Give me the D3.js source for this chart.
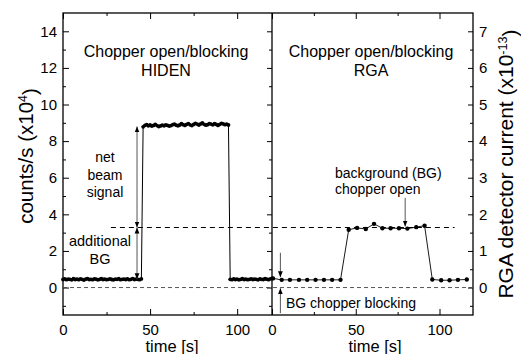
<!DOCTYPE html>
<html>
<head>
<meta charset="utf-8">
<script src="https://cdn.jsdelivr.net/npm/d3@7"></script>
<style>
  body { margin: 0; background: #fff; }
  svg { font-family: "Liberation Sans", Arial, sans-serif; }
</style>
</head>
<body>
<svg id="chart" width="521" height="354"></svg>
<script>
// HIDEN count rate (x10^4 counts/s), one sample per second starting at t = 0 s
var hidenStart = 0, hidenStep = 1
var hidenCounts = [
  0.44, 0.47, 0.43, 0.46, 0.45, 0.42, 0.48, 0.44, 0.46, 0.43,
  0.47, 0.45, 0.41, 0.46, 0.49, 0.44, 0.45, 0.43, 0.47, 0.46,
  0.42, 0.45, 0.48, 0.44, 0.46, 0.43, 0.45, 0.47, 0.44, 0.42,
  0.46, 0.45, 0.48, 0.43, 0.45, 0.46, 0.44, 0.47, 0.43, 0.45,
  0.49, 0.44, 0.46, 0.45, 0.43, 0.47,
  8.78, 8.86, 8.90, 8.84, 8.88, 8.82, 8.86, 8.91, 8.85, 8.80,
  8.83, 8.87, 8.84, 8.89, 8.86, 8.82, 8.85, 8.90, 8.93, 8.87,
  8.84, 8.88, 8.95, 8.90, 8.86, 8.92, 8.96, 8.89, 8.85, 8.91,
  8.97, 8.93, 8.88, 8.94, 8.99, 8.92, 8.87, 8.90, 8.96, 8.93,
  8.89, 8.95, 8.91, 8.86, 8.92, 8.97, 8.94, 8.90, 8.93, 8.88,
  0.45, 0.43, 0.47, 0.44, 0.46, 0.42, 0.45, 0.48, 0.44, 0.46,
  0.43, 0.45, 0.47, 0.44, 0.46, 0.45, 0.42, 0.47, 0.45, 0.44,
  0.48, 0.46, 0.43, 0.47, 0.50
]

// RGA detector current (x10^-13 A)
var rgaTime = [0.6, 5.8, 10.7, 16.1, 21, 26, 31, 35.9, 40.9,
  45.8, 50.8, 56, 60.9, 65.9, 70.8, 75.8, 80.8, 86.1, 91.1,
  95.7, 101, 106, 111, 116.3]
var rgaCurrent = [0.25, 0.21, 0.21, 0.21, 0.21, 0.21, 0.21, 0.21, 0.21,
  1.58, 1.63, 1.60, 1.74, 1.62, 1.62, 1.62, 1.61, 1.65, 1.69,
  0.22, 0.20, 0.20, 0.21, 0.22]

var bgOpenLevel = 1.64   // RGA units, dashed reference line
var timeTicks = [0, 50, 100]
var timeMinor = [25, 75]
var countTicks = [0, 2, 4, 6, 8, 10, 12, 14]
var countMinor = [-1, 1, 3, 5, 7, 9, 11, 13]
var rgaTicks = [0, 1, 2, 3, 4, 5, 6, 7]
var rgaMinor = [-0.5, 0.5, 1.5, 2.5, 3.5, 4.5, 5.5, 6.5]

var svg = d3.select("#chart")

var plotTop = 13, plotBottom = 315
var xL = d3.scaleLinear().domain([0, 120]).range([63, 272])
var xR = d3.scaleLinear().domain([0, 120]).range([272, 473])
var yL = d3.scaleLinear().domain([-1.5, 15]).range([plotBottom, plotTop])
var yR = d3.scaleLinear().domain([-0.75, 7.5]).range([plotBottom, plotTop])

var hiden = hidenCounts.map(function (v, i) { return { t: hidenStart + i * hidenStep, v: v } })
var rga = rgaTime.map(function (t, i) { return { t: t, v: rgaCurrent[i] } })

// arrow head marker
var defs = svg.append("defs")
defs.append("marker").attr("id", "head")
  .attr("viewBox", "0 0 10 10").attr("refX", 10).attr("refY", 5)
  .attr("markerWidth", 6).attr("markerHeight", 6)
  .attr("markerUnits", "userSpaceOnUse")
  .attr("orient", "auto-start-reverse")
  .append("path").attr("d", "M0,1 L10,5 L0,9 Z").attr("fill", "#000")

function styleAxis(g) {
  g.select(".domain").remove()
  g.selectAll("line").attr("stroke", "#000").attr("stroke-width", 1)
  g.selectAll("text").attr("fill", "#000").style("font-size", "15px")
    .style("font-family", "'Liberation Sans', Arial, sans-serif")
}

function addAxis(axis, tx, ty) {
  svg.append("g").attr("transform", "translate(" + tx + "," + ty + ")").call(axis).call(styleAxis)
}

// bottom / top time axes, ticks pointing in
;[xL, xR].forEach(function (x) {
  addAxis(d3.axisBottom(x).tickValues(timeTicks).tickSize(-6).tickPadding(9), 0, plotBottom)
  addAxis(d3.axisBottom(x).tickValues(timeMinor).tickSize(-3).tickFormat(""), 0, plotBottom)
  addAxis(d3.axisTop(x).tickValues(timeTicks).tickSize(-6).tickFormat(""), 0, plotTop)
  addAxis(d3.axisTop(x).tickValues(timeMinor).tickSize(-3).tickFormat(""), 0, plotTop)
})

// left panel y axis
addAxis(d3.axisLeft(yL).tickValues(countTicks).tickSize(-6).tickPadding(6), 63, 0)
addAxis(d3.axisLeft(yL).tickValues(countMinor).tickSize(-3).tickFormat(""), 63, 0)
addAxis(d3.axisRight(yL).tickValues(countTicks).tickSize(-5).tickFormat(""), 272, 0)
addAxis(d3.axisRight(yL).tickValues(countMinor).tickSize(-3).tickFormat(""), 272, 0)

// right panel y axis
addAxis(d3.axisRight(yR).tickValues(rgaTicks).tickSize(-5).tickPadding(6), 473, 0)
addAxis(d3.axisRight(yR).tickValues(rgaMinor).tickSize(-3).tickFormat(""), 473, 0)

// frames
svg.append("rect").attr("x", 63).attr("y", plotTop).attr("width", 410).attr("height", plotBottom - plotTop)
  .attr("fill", "none").attr("stroke", "#000").attr("stroke-width", 1.3)
svg.append("line").attr("x1", 272).attr("x2", 272).attr("y1", plotTop).attr("y2", plotBottom)
  .attr("stroke", "#000").attr("stroke-width", 1.3)

// zero line
svg.append("line").attr("x1", xL(0)).attr("x2", xR(120)).attr("y1", yL(0)).attr("y2", yL(0))
  .attr("stroke", "#444").attr("stroke-width", 0.9).attr("stroke-dasharray", "4,3")

// background level with chopper open
svg.append("line").attr("x1", xL(27.5)).attr("x2", xR(109)).attr("y1", yR(bgOpenLevel)).attr("y2", yR(bgOpenLevel))
  .attr("stroke", "#000").attr("stroke-width", 1.1).attr("stroke-dasharray", "5,4")

// HIDEN series
svg.append("path").datum(hiden)
  .attr("d", d3.line().x(function (d) { return xL(d.t) }).y(function (d) { return yL(d.v) }))
  .attr("fill", "none").attr("stroke", "#000").attr("stroke-width", 1)
svg.selectAll(".hid").data(hiden).enter().append("circle").attr("class", "hid")
  .attr("cx", function (d) { return xL(d.t) }).attr("cy", function (d) { return yL(d.v) })
  .attr("r", 1.9).attr("fill", "#000")

// RGA series
svg.append("path").datum(rga)
  .attr("d", d3.line().x(function (d) { return xR(d.t) }).y(function (d) { return yR(d.v) }))
  .attr("fill", "none").attr("stroke", "#000").attr("stroke-width", 0.9)
svg.selectAll(".rga").data(rga).enter().append("circle").attr("class", "rga")
  .attr("cx", function (d) { return xR(d.t) }).attr("cy", function (d) { return yR(d.v) })
  .attr("r", 2.2).attr("fill", "#000")

// arrows
function arrow(x, y1, y2, both) {
  var l = svg.append("line").attr("x1", x).attr("x2", x).attr("y1", y1).attr("y2", y2)
    .attr("stroke", "#555").attr("stroke-width", 1).attr("marker-end", "url(#head)")
  if (both) l.attr("marker-start", "url(#head)")
}
var bgLeft = yR(bgOpenLevel)
arrow(xL(42.5), bgLeft, yL(8.8), true)
arrow(xL(42.5), bgLeft, yL(0.45), true)
arrow(xR(79.5), yR(2.45), bgLeft - 1, false)
arrow(xR(5), yR(0.95), yR(0.28), false)
arrow(xR(5), yR(-0.7), yR(-0.02), false)

// labels
function label(txt, x, y, size, anchor) {
  svg.append("text").attr("x", x).attr("y", y).attr("text-anchor", anchor || "middle")
    .style("font-size", size + "px").attr("fill", "#000").text(txt)
}
label("Chopper open/blocking", 166, 57, 16)
label("HIDEN", 166, 76, 16)
label("Chopper open/blocking", 371, 57, 16)
label("RGA", 371, 76, 16)
label("net", 105, 162, 14)
label("beam", 105, 180, 14)
label("signal", 105, 197, 14)
label("additional", 100, 246, 14.5)
label("BG", 100, 264, 14.5)
label("background (BG)", 335, 178, 14, "start")
label("chopper open", 335, 194, 14, "start")
label("BG chopper blocking", 286, 308, 14, "start")
label("time [s]", 172, 352, 16.5)
label("time [s]", 375, 352, 16.5)

// rotated axis titles with superscripts
function yTitle(x, y, size, main, sup) {
  var t = svg.append("text").attr("transform", "translate(" + x + "," + y + ") rotate(-90)")
    .attr("text-anchor", "middle").style("font-size", size + "px").attr("fill", "#000")
  t.append("tspan").text(main)
  t.append("tspan").attr("dy", "-0.5em").style("font-size", "0.6em").text(sup)
  t.append("tspan").attr("dy", "0.5em").text(")")
}
yTitle(33, 156, 20.5, "counts/s (x10", "4")
yTitle(513, 164, 21, "RGA detector current (x10", "-13")
</script>
</body>
</html>
